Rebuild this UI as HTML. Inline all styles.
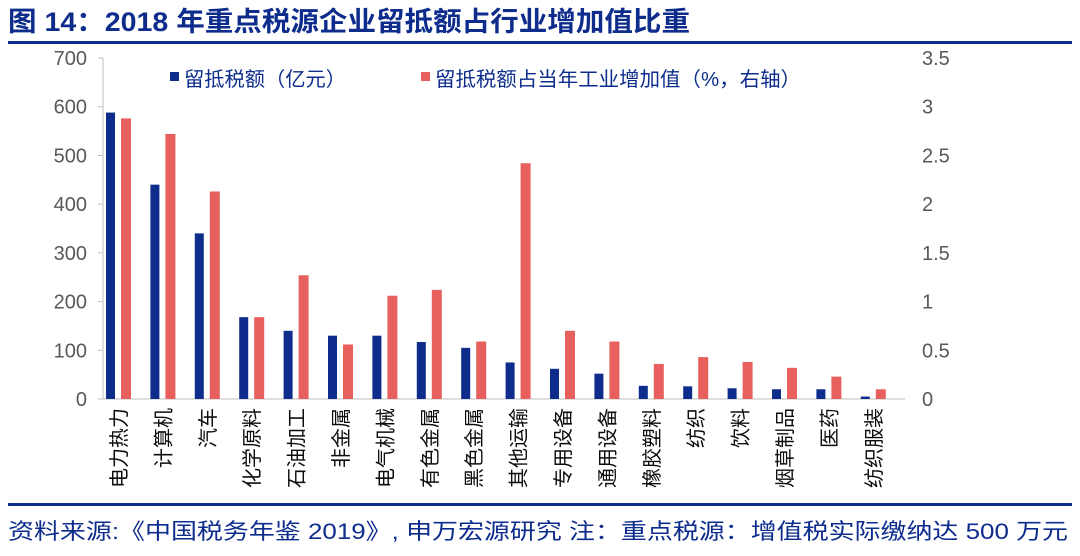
<!DOCTYPE html>
<html><head><meta charset="utf-8"><style>
body{margin:0;background:#fff;width:1080px;height:551px;overflow:hidden}
svg{font-family:"Liberation Sans","Noto Sans CJK SC",sans-serif}
</style></head><body>
<svg id="c" width="1080" height="551">
<text x="8" y="31" font-size="27" font-weight="bold" fill="#0d2c8c" textLength="682" lengthAdjust="spacingAndGlyphs">图 14：2018 年重点税源企业留抵额占行业增加值比重</text>
<rect x="8" y="41" width="1064" height="3" fill="#0d2c8c"/>
<rect x="8" y="503" width="1064" height="3" fill="#0d2c8c"/>
<text x="8" y="539" font-size="22" fill="#0d2c8c" textLength="1060" lengthAdjust="spacingAndGlyphs">资料来源:《中国税务年鉴 2019》, 申万宏源研究 注：重点税源：增值税实际缴纳达 500 万元</text>
<g>
<rect x="170" y="72" width="9" height="9" fill="#0d2c8c"/>
<text x="184" y="86" font-size="20" fill="#0d2c8c" textLength="162" lengthAdjust="spacingAndGlyphs">留抵税额（亿元）</text>
<rect x="421" y="72" width="9" height="9" fill="#e8605d"/>
<text x="435" y="86" font-size="20" fill="#0d2c8c" textLength="366" lengthAdjust="spacingAndGlyphs">留抵税额占当年工业增加值（%，右轴）</text>
</g>
<g id="plot"></g>
</svg>
<script>
const categories=["电力热力","计算机","汽车","化学原料","石油加工","非金属","电气机械","有色金属","黑色金属","其他运输","专用设备","通用设备","橡胶塑料","纺织","饮料","烟草制品","医药","纺织服装"];
const amounts=[588,440,340,168,140,130,130,117,105,75,62,52,27,26,22,20,20,5];
const shares=[2.88,2.72,2.13,0.84,1.27,0.56,1.06,1.12,0.59,2.42,0.70,0.59,0.36,0.43,0.38,0.32,0.23,0.10];
const leftTicks=[0,100,200,300,400,500,600,700];
const rightTicks=["0","0.5","1","1.5","2","2.5","3","3.5"];
const NS="http://www.w3.org/2000/svg";
const g=document.getElementById('plot');
const y0=399,yTop=58,xL=103,step=44.4,x0=104;
const yL=v=>y0-(v/700)*(y0-yTop);
const yR=v=>y0-(v/3.5)*(y0-yTop);
function el(t,a){const e=document.createElementNS(NS,t);for(const k in a)e.setAttribute(k,a[k]);g.appendChild(e);return e;}
let ax=el('line',{x1:xL,y1:yTop,x2:xL,y2:y0,stroke:'#bfbfbf'});


let bx=el('line',{x1:xL,y1:y0,x2:905,y2:y0,stroke:'#bfbfbf'});


leftTicks.forEach((v,i)=>{
 const y=yL(v);
 let tk=el('line',{x1:xL-5,y1:y,x2:xL,y2:y,stroke:'#bfbfbf'});
 
 
 let t=el('text',{x:87,y:y+7,'font-size':20,fill:'#595959','text-anchor':'end'});t.textContent=v;
 
 
 let r=el('text',{x:922,y:y+7,'font-size':20,fill:'#595959'});r.textContent=rightTicks[i];
 
 
});
categories.forEach((c,i)=>{
 const cx=x0+step*i;
 let b=el('rect',{x:cx+2,y:yL(amounts[i]),width:9,height:y0-yL(amounts[i]),fill:'#0d2c8c'});
 
 
 let r=el('rect',{x:cx+17,y:yR(shares[i]),width:10,height:y0-yR(shares[i]),fill:'#e8605d'});
 
 
 let t=el('text',{x:0,y:0,'font-size':20,fill:'#0d0d0d','text-anchor':'end',transform:`translate(${cx+22},408) rotate(-90)`});
 t.textContent=c;
 
 
});
</script>
</body></html>
